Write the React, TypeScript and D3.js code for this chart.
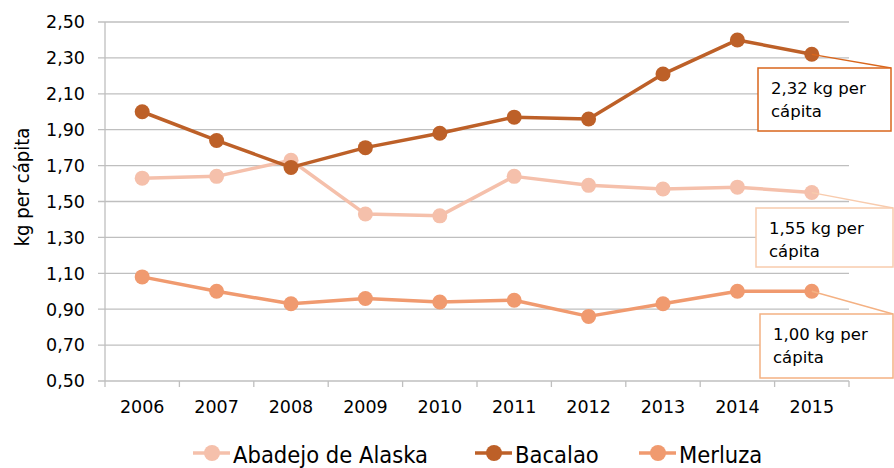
import React, { useRef, useEffect } from "react";
import * as d3 from "d3";

const years = ["2006", "2007", "2008", "2009", "2010", "2011", "2012", "2013", "2014", "2015"];
const abadejo = [1.63, 1.64, 1.73, 1.43, 1.42, 1.64, 1.59, 1.57, 1.58, 1.55];
const bacalao = [2.0, 1.84, 1.69, 1.8, 1.88, 1.97, 1.96, 2.21, 2.4, 2.32];
const merluza = [1.08, 1.0, 0.93, 0.96, 0.94, 0.95, 0.86, 0.93, 1.0, 1.0];
const yTicks = [0.5, 0.7, 0.9, 1.1, 1.3, 1.5, 1.7, 1.9, 2.1, 2.3, 2.5];

const seriesList = [
  { name: "Abadejo de Alaska", values: abadejo, color: "#F5C0AB", box: "#F8CBAD", label: "1,55 kg per", bx: 756, by: 208, bw: 137, bh: 59, lx: 193 },
  { name: "Bacalao", values: bacalao, color: "#BD6028", box: "#D9661C", label: "2,32 kg per", bx: 758, by: 68, bw: 133, bh: 63, lx: 475 },
  { name: "Merluza", values: merluza, color: "#F09A6F", box: "#F4B183", label: "1,00 kg per", bx: 760, by: 314, bw: 133, bh: 64, lx: 639 },
];

const FONT = "'DejaVu Sans', Verdana, sans-serif";
const FONT_C = "'DejaVu Sans Condensed', Tahoma, sans-serif";

const App = () => {
  const ref = useRef<SVGSVGElement>(null);

  useEffect(() => {
    const svg = d3.select(ref.current);
    svg.selectAll("*").remove();

    const left = 105, right = 849, top = 22, bottom = 381;
    const x = d3.scaleBand().domain(years).range([left, right]);
    const y = d3.scaleLinear().domain([0.5, 2.5]).range([bottom, top]);
    const cx = (i: number) => (x(years[i]) as number) + x.bandwidth() / 2;

    // gridlines
    svg.append("g")
      .selectAll("line")
      .data(yTicks)
      .enter()
      .append("line")
      .attr("x1", left - 7)
      .attr("x2", right)
      .attr("y1", (d) => y(d))
      .attr("y2", (d) => y(d))
      .attr("stroke", "#BFBFBF")
      .attr("stroke-width", 1.3);

    // y axis line
    svg.append("line")
      .attr("x1", left).attr("x2", left)
      .attr("y1", top).attr("y2", bottom)
      .attr("stroke", "#BFBFBF").attr("stroke-width", 1.3);

    // x ticks at band boundaries
    const bounds = years.map((d) => x(d) as number).concat([right]);
    svg.append("g")
      .selectAll("line")
      .data(bounds)
      .enter()
      .append("line")
      .attr("x1", (d) => d).attr("x2", (d) => d)
      .attr("y1", bottom).attr("y2", bottom + 6)
      .attr("stroke", "#BFBFBF").attr("stroke-width", 1.3);

    // y labels
    svg.append("g")
      .selectAll("text")
      .data(yTicks)
      .enter()
      .append("text")
      .attr("x", 85)
      .attr("y", (d) => y(d))
      .attr("dy", "0.36em")
      .attr("text-anchor", "end")
      .style("font-family", FONT)
      .style("font-size", "17.5px")
      .attr("fill", "#000")
      .text((d) => d3.format(".2f")(d).replace(".", ","));

    // x labels
    svg.append("g")
      .selectAll("text")
      .data(years)
      .enter()
      .append("text")
      .attr("x", (d, i) => cx(i))
      .attr("y", 413)
      .attr("text-anchor", "middle")
      .style("font-family", FONT)
      .style("font-size", "17.5px")
      .attr("fill", "#000")
      .text((d) => d);

    // y title
    svg.append("text")
      .attr("transform", `translate(29,187) rotate(-90)`)
      .attr("text-anchor", "middle")
      .style("font-family", FONT_C)
      .style("font-size", "20px")
      .attr("fill", "#000")
      .text("kg per cápita");

    const line = d3.line<number>().x((d, i) => cx(i)).y((d) => y(d));

    seriesList.forEach((s) => {
      const g = svg.append("g");
      g.append("path")
        .attr("d", line(s.values))
        .attr("fill", "none")
        .attr("stroke", s.color)
        .attr("stroke-width", 3.5)
        .attr("stroke-linejoin", "round");
      g.selectAll("circle")
        .data(s.values)
        .enter()
        .append("circle")
        .attr("cx", (d, i) => cx(i))
        .attr("cy", (d) => y(d))
        .attr("r", 7.5)
        .attr("fill", s.color);
    });

    // callouts
    seriesList.forEach((s) => {
      const last = s.values.length - 1;
      const g = svg.append("g");
      g.append("line")
        .attr("x1", cx(last)).attr("y1", y(s.values[last]))
        .attr("x2", s.bx + s.bw).attr("y2", s.by)
        .attr("stroke", s.box).attr("stroke-width", 1.3);
      g.append("rect")
        .attr("x", s.bx).attr("y", s.by)
        .attr("width", s.bw).attr("height", s.bh)
        .attr("fill", "#fff")
        .attr("stroke", s.box).attr("stroke-width", 1.5);
      g.append("text")
        .attr("x", s.bx + 13).attr("y", s.by + 26)
        .style("font-family", FONT).style("font-size", "16.5px")
        .attr("fill", "#000")
        .text(s.label);
      g.append("text")
        .attr("x", s.bx + 13).attr("y", s.by + 49)
        .style("font-family", FONT).style("font-size", "16.5px")
        .attr("fill", "#000")
        .text("cápita");
    });

    // legend
    seriesList.forEach((s) => {
      const g = svg.append("g").attr("transform", `translate(${s.lx},453)`);
      g.append("line")
        .attr("x1", 0).attr("x2", 37)
        .attr("stroke", s.color).attr("stroke-width", 3.5);
      g.append("circle").attr("cx", 19).attr("r", 8).attr("fill", s.color);
      g.append("text")
        .attr("x", 40)
        .attr("y", 10)
        .style("font-family", FONT_C)
        .style("font-size", "23.5px")
        .attr("fill", "#000")
        .text(s.name);
    });
  }, []);

  return (
    <svg
      ref={ref}
      width={894}
      height={468}
      style={{ position: "absolute", left: 0, top: 0, background: "#fff" }}
    />
  );
};

export default App;
